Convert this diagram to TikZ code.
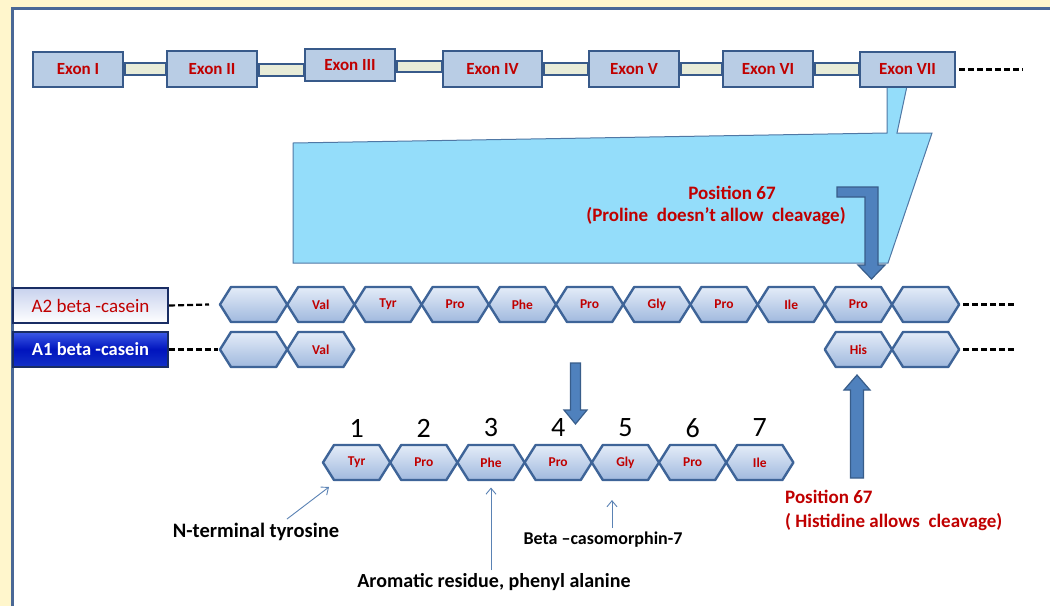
\documentclass[tikz,border=0pt]{standalone}
\usepackage{fontspec}
\setmainfont{Carlito}
\usetikzlibrary{arrows.meta}
\definecolor{cream}{RGB}{255,246,204}
\definecolor{panelborder}{RGB}{74,104,150}
\definecolor{exonfill}{RGB}{185,205,229}
\definecolor{exonborder}{RGB}{56,90,138}
\definecolor{intronfill}{RGB}{232,236,216}
\definecolor{darkred}{RGB}{192,0,0}
\definecolor{hextop}{RGB}{228,236,248}
\definecolor{hexbot}{RGB}{160,185,222}
\definecolor{hexborder}{RGB}{62,100,152}
\definecolor{trapfill}{RGB}{148,221,250}
\definecolor{trapborder}{RGB}{80,120,165}
\definecolor{arrowfill}{RGB}{79,129,189}
\definecolor{arrowborder}{RGB}{56,93,138}
\definecolor{thinblue}{RGB}{90,130,180}
\definecolor{navy}{RGB}{25,45,100}
\definecolor{atwotop}{RGB}{200,210,238}
\definecolor{aonetop}{RGB}{60,90,230}
\definecolor{aonemid}{RGB}{0,20,190}
\definecolor{aonebot}{RGB}{20,50,200}
\newcommand{\hexcell}[4]{%
  \draw[hexbox] (#2,#3) -- ++(11,-17.5) -- ++(45.2,0) -- ++(11,17.5) -- ++(-11,17.5) -- ++(-45.2,0) -- cycle;
  \coordinate (#1W) at (#2,#3);
  \coordinate (#1E) at (#2+67.2,#3);
  \node[hextext] (#1) at (#2+33.6,#3) {#4};}
\begin{document}
\begin{tikzpicture}[x=1pt,y=-1pt,
  exon/.style={draw=exonborder, fill=exonfill, line width=2.8pt, inner sep=0pt,
    text=darkred, font=\fontsize{17}{19}\selectfont\bfseries},
  intron/.style={draw=exonborder, fill=intronfill, line width=2.2pt},
  hexbox/.style={draw=hexborder, line width=2.4pt, top color=hextop, bottom color=hexbot, line join=round},
  hextext/.style={text=darkred, inner sep=0pt, font=\fontsize{13.5}{15}\selectfont\bfseries},
  blockarrow/.style={draw=arrowborder, fill=arrowfill, line width=1.2pt, line join=miter},
  thinarrow/.style={draw=thinblue, line width=0.9pt, -{Straight Barb[length=6pt,width=10pt]}},
  dashline/.style={draw=black, line width=2.2pt, dash pattern=on 6pt off 3pt},
  redtext/.style={text=darkred, inner sep=0pt, font=\fontsize{19}{22}\selectfont\bfseries},
  blacktext/.style={text=black, inner sep=0pt, font=\fontsize{18}{22}\selectfont\bfseries},
  numtext/.style={text=black, inner sep=0pt, font=\fontsize{28}{30}\selectfont},
  caselab/.style={minimum width=155pt, minimum height=35pt, inner sep=0pt, line width=2.4pt, draw=navy,
    font=\fontsize{18.5}{20}\selectfont\bfseries}]
\useasboundingbox (0,0) rectangle (1050,606);
\fill[cream] (0,0) rectangle (1050,606);
\fill[white] (12,8) rectangle (1050,606);
\draw[panelborder, line width=3pt] (12,606) -- (12,8) -- (1050,8);

% light blue trapezoid (expansion of exon VII)
\draw[fill=trapfill, draw=trapborder, line width=1pt, line join=miter]
  (293,143) -- (887,133) -- (887,86) -- (907,86) -- (897,133) -- (932,133) -- (888,263) -- (293,263) -- cycle;

% exons
\node[exon, minimum width=90pt, minimum height=35pt] (exI) at (78,69.5) {Exon I};
\node[exon, minimum width=90pt, minimum height=36pt] (exII) at (212,69) {Exon II};
\node[exon, minimum width=90pt, minimum height=32pt] (exIII) at (350,65) {Exon III};
\node[exon, minimum width=99pt, minimum height=36pt] (exIV) at (492.5,69) {Exon IV};
\node[exon, minimum width=90pt, minimum height=36pt] (exV) at (634,69) {Exon V};
\node[exon, minimum width=90pt, minimum height=36pt] (exVI) at (768,69) {Exon VI};
\node[exon, minimum width=95pt, minimum height=35pt] (exVII) at (907.5,69.5) {Exon VII};

% introns
\draw[intron] (exI.east |- 0,63) rectangle (exII.west |- 0,75);
\draw[intron] (exII.east |- 0,64) rectangle (exIII.west |- 0,76);
\draw[intron] (exIII.east |- 0,61) rectangle (exIV.west |- 0,72);
\draw[intron] (exIV.east |- 0,63) rectangle (exV.west |- 0,75);
\draw[intron] (exV.east |- 0,63) rectangle (exVI.west |- 0,75);
\draw[intron] (exVI.east |- 0,63) rectangle (exVII.west |- 0,75);
\draw[dashline] ([xshift=3pt]exVII.east) -- ++(64,0);

% red labels, top
\node[redtext] (p67a) at (732,193) {Position 67};
\node[redtext] (p67b) at (716,216) {(Proline\ \ doesn't allow\ \ cleavage)};

% elbow arrow
\draw[blockarrow] (837,187) -- (878,187) -- (878,265) -- (885,265) -- (871.5,279) -- (858,265) -- (865,265) -- (865,197) -- (837,197) -- cycle;

% casein labels
\node[caselab, top color=atwotop, bottom color=white, text=darkred] (a2lab) at (90.5,305.5) {\mdseries\fontsize{19}{20}\selectfont A2 beta -casein};
\node[caselab, top color=aonetop, bottom color=aonebot, middle color=aonemid, text=white] (a1lab) at (90.5,349.5) {A1 beta -casein};

% A2 row
\foreach \i/\t in {0/{},1/Val,2/Tyr,3/Pro,4/Phe,5/Pro,6/Gly,7/Pro,8/Ile,9/Pro,10/{}}{
  \hexcell{a2h\i}{220+67.2*\i}{304.5}{\t}
}
% A1 row
\foreach \i/\t in {0/{},1/Val,9/His,10/{}}{
  \hexcell{a1h\i}{220+67.2*\i}{349.5}{\t}
}
\draw[dashline] (a2lab.east) -- ([xshift=-11pt]a2h0W);
\draw[dashline] ([xshift=4pt]a2h10E) -- ++(52,0);
\draw[dashline] (a1lab.east) -- ([xshift=-2pt]a1h0W);
\draw[dashline] ([xshift=4pt]a1h10E) -- ++(52,0);

% down arrow
\draw[blockarrow] (570.5,363) -- (580.5,363) -- (580.5,410) -- (587,410) -- (575.5,424) -- (564,410) -- (570.5,410) -- cycle;

% beta-casomorphin-7 row
\foreach \i/\t in {0/Tyr,1/Pro,2/Phe,3/Pro,4/Gly,5/Pro,6/Ile}{
  \hexcell{bh\i}{323+67.2*\i}{462.5}{\t}
  \pgfmathtruncatemacro{\n}{\i+1}
  \node[numtext] (num\i) at (323+67.2*\i+33.6,428) {\n};
}

% up arrow
\draw[blockarrow] (850.5,478) -- (863.5,478) -- (863.5,390) -- (870,390) -- (857,375) -- (844,390) -- (850.5,390) -- cycle;

% bottom red labels
\node[redtext, anchor=west] (p67c) at (785,497) {Position 67};
\node[redtext, anchor=west] (p67d) at (785,522) {( Histidine allows\ \ cleavage)};

% annotations
\node[blacktext, font=\fontsize{20.5}{22}\selectfont\bfseries] (ntlab) at (256,532) {N-terminal tyrosine};
\node[blacktext, font=\fontsize{20}{22}\selectfont\bfseries] (arlab) at (494,582) {Aromatic residue, phenyl alanine};
\node[blacktext] (bclab) at (603,540) {Beta –casomorphin-7};
\coordinate (nttip) at (329,487);
\draw[thinarrow] (287,519) -- (nttip);
\draw[thinarrow] (bh2.center |- arlab.north) ++(0,-3) -- ([yshift=-25pt]bh2.center);
\draw[thinarrow] ([xshift=9pt,yshift=4pt]bclab.north) -- ++(0,-28);
\end{tikzpicture}
\end{document}
